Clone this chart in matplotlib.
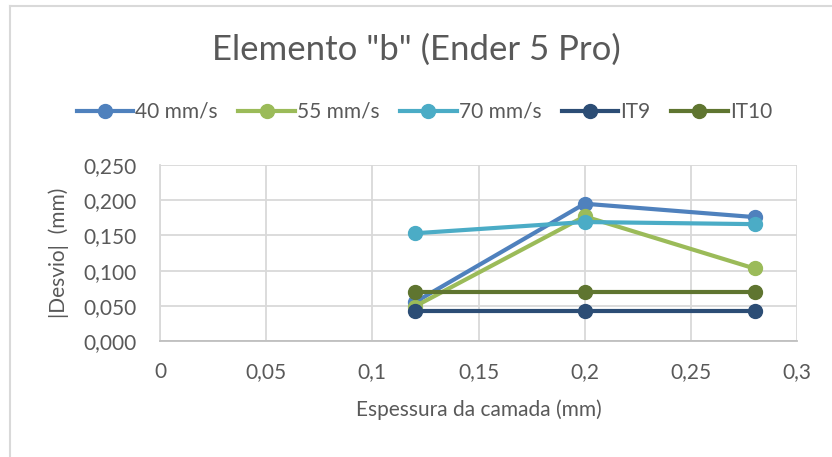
import matplotlib
matplotlib.use("Agg")
import matplotlib.pyplot as plt
from matplotlib.lines import Line2D
from matplotlib.ticker import FuncFormatter, MultipleLocator

plt.rcParams['font.family'] = ['Lato', 'DejaVu Sans']

# Layer thickness (mm) and absolute deviation (mm) per print speed
espessura = [0.12, 0.20, 0.28]
desvio_40 = [0.055, 0.195, 0.176]
desvio_55 = [0.049, 0.177, 0.103]
desvio_70 = [0.153, 0.169, 0.166]
it9 = [0.043, 0.043, 0.043]
it10 = [0.070, 0.070, 0.070]

series = [
    ("40 mm/s", desvio_40, "#4f81bd"),
    ("55 mm/s", desvio_55, "#9bbb59"),
    ("70 mm/s", desvio_70, "#4bacc6"),
    ("IT9", it9, "#2c4d75"),
    ("IT10", it10, "#5f7530"),
]

W, H = 832, 457
fig = plt.figure(figsize=(W / 100, H / 100), dpi=100)
ax = fig.add_axes([160 / W, 1 - 341 / H, (797 - 160) / W, (341 - 165) / H])

for label, vals, color in series:
    ax.plot(espessura, vals, color=color, lw=3, marker='o', ms=10,
            label=label, zorder=3)

ax.set_xlim(0, 0.3)
ax.set_ylim(0, 0.25)
ax.xaxis.set_major_locator(MultipleLocator(0.05))
ax.yaxis.set_major_locator(MultipleLocator(0.05))


def fmt_x(v, _):
    s = f"{v:.2f}".rstrip('0').rstrip('.')
    return s.replace('.', ',')


ax.xaxis.set_major_formatter(FuncFormatter(fmt_x))
ax.yaxis.set_major_formatter(FuncFormatter(lambda v, _: f"{v:.3f}".replace('.', ',')))

grid_c = "#d9d9d9"
ax.grid(True, color=grid_c, lw=1.3, zorder=0)
for s in ['top', 'right']:
    ax.spines[s].set_visible(False)
ax.spines['left'].set_color(grid_c)
ax.spines['bottom'].set_color("#bfbfbf")
ax.spines['left'].set_linewidth(1.3)
ax.spines['bottom'].set_linewidth(1.3)
ax.tick_params(length=0, labelsize=15, colors="#595959")
ax.tick_params(axis='y', pad=17)
ax.tick_params(axis='x', pad=15)

ax.set_xlabel("Espessura da camada (mm)", fontsize=15, color="#595959", labelpad=13)
ax.set_ylabel("|Desvio|  (mm)", fontsize=15, color="#595959", labelpad=10)

fig.text(0.5, 1 - 50 / H, 'Elemento "b" (Ender 5 Pro)', ha='center', va='center',
         fontsize=25, color="#595959")

handles = [Line2D([0], [0], color=c, lw=3, marker='o', ms=10) for _, _, c in series]
fig.legend(handles, [s[0] for s in series], loc='center', ncol=5,
           bbox_to_anchor=(0.51, 1 - 112 / H), frameon=False, fontsize=15,
           labelcolor="#595959", handlelength=2.7, handletextpad=0.1,
           columnspacing=1.0)

# chart frame
frame_c = "#d9d9d9"
fig.add_artist(Line2D([10 / W, 10 / W], [0, 1 - 6 / H], color=frame_c, lw=1.5,
                      transform=fig.transFigure))
fig.add_artist(Line2D([10 / W, 1], [1 - 6 / H, 1 - 6 / H], color=frame_c, lw=1.5,
                      transform=fig.transFigure))

fig.savefig("out.png", dpi=100, facecolor="white")
